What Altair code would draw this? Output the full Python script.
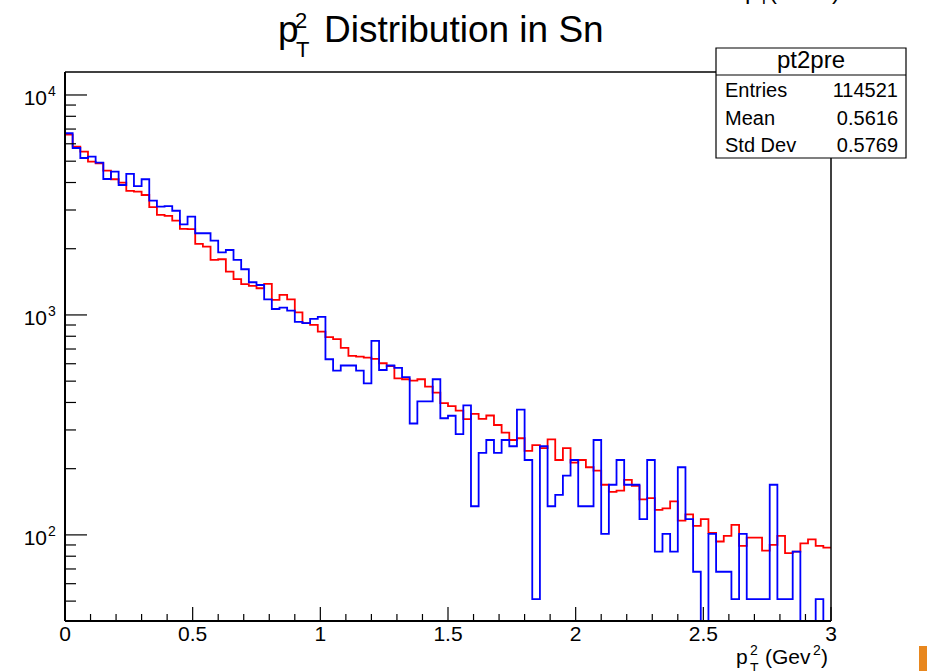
import altair as alt
import pandas as pd

# ---------------- data ----------------
n_bins = 100
x_lo, x_hi = 0.0, 3.0

# red histogram (pt2pre), bin contents
red_counts = [6600, 5821, 5526, 4975, 4893, 4527, 4139, 3994, 3661, 3634,
              3510, 3089, 2849, 2818, 2683, 2460, 2455, 2102, 2043, 1778,
              1791, 1573, 1454, 1380, 1355, 1322, 1383, 1170, 1233, 1178,
              1028, 917, 901, 839, 792, 776, 708, 651, 646, 640,
              631, 603, 586, 515, 510, 503, 510, 472, 443, 397,
              385, 367, 336, 355, 337, 349, 316, 292, 270, 275,
              241, 256, 248, 272, 219, 248, 213, 219, 203, 196,
              169, 157, 159, 178, 167, 145, 147, 130, 132, 142,
              116, 124, 110, 118, 102, 93.3, 98.9, 111, 89.1, 97.2,
              97.2, 84.9, 90.1, 98.9, 82.6, 84, 91.6, 95.5, 89.1, 87.5]

# blue histogram, bin contents (0 = empty bin)
blue_counts = [6700, 5741, 5171, 5243, 4924, 4150, 4479, 3897, 4375, 3855,
               4139, 3311, 3106, 3126, 2977, 2583, 2797, 2352, 2352, 2177,
               1927, 1974, 1778, 1613, 1408, 1368, 1178, 1064, 1079, 1046,
               929, 917, 959, 979, 629, 558, 589, 589, 558, 489,
               762, 562, 589, 574, 521, 321, 405, 405, 510, 339,
               348, 287, 388, 135, 236, 270, 236, 270, 253, 371,
               219, 51, 253, 135, 152, 186, 219, 135, 135, 270,
               101, 169, 219, 169, 169, 118, 219, 84, 101, 84,
               203, 118, 68, 0, 101, 68, 68, 51, 101, 51,
               51, 51, 169, 51, 51, 84, 0, 0, 51, 0]

x_major = [0, 0.5, 1, 1.5, 2, 2.5, 3]
x_major_labels = ["0", "0.5", "1", "1.5", "2", "2.5", "3"]
x_minor = [0.1, 0.2, 0.3, 0.4, 0.6, 0.7, 0.8, 0.9, 1.1, 1.2, 1.3, 1.4,
           1.6, 1.7, 1.8, 1.9, 2.1, 2.2, 2.3, 2.4, 2.6, 2.7, 2.8, 2.9]
y_major = [100, 1000, 10000]
y_major_exp = ["2", "3", "4"]
y_minor = [50, 60, 70, 80, 90, 200, 300, 400, 500, 600, 700, 800, 900,
           2000, 3000, 4000, 5000, 6000, 7000, 8000, 9000]

stats_title = "pt2pre"
stats_names = ["Entries", "Mean", "Std Dev"]
stats_values = ["114521", "0.5616", "0.5769"]

# ---------------- layout ----------------
W, H = 766, 549
F = "Liberation Sans"
xs = alt.Scale(domain=[x_lo, x_hi], nice=False, zero=False)
ys = alt.Scale(type="log", domain=[40.6, 12720], nice=False, clamp=True)


def step_rows(counts):
    w = (x_hi - x_lo) / n_bins
    rows = []
    for i, c in enumerate(counts):
        v = max(c, 1.0)
        rows.append({"x": x_lo + i * w, "v": v, "o": 2 * i})
        rows.append({"x": x_lo + (i + 1) * w, "v": v, "o": 2 * i + 1})
    return pd.DataFrame(rows)


def hist(counts, color):
    return alt.Chart(step_rows(counts)).mark_line(
        color=color, strokeWidth=1.8, clip=True, strokeJoin="miter"
    ).encode(
        x=alt.X("x:Q", scale=xs, axis=None),
        y=alt.Y("v:Q", scale=ys, axis=None),
        order="o:Q",
    )


one = pd.DataFrame({"a": [0]})


def txt(text, x, y, size, align="left"):
    return alt.Chart(one).mark_text(
        text=text, align=align, baseline="alphabetic", fontSize=size,
        font=F, color="black"
    ).encode(x=alt.value(x), y=alt.value(y))


def rule(x, x2, y, y2, width=1.5):
    return alt.Chart(one).mark_rule(color="black", strokeWidth=width).encode(
        x=alt.value(x), x2=alt.value(x2), y=alt.value(y), y2=alt.value(y2)
    )


red = hist(red_counts, "#ff0000")
blue = hist(blue_counts, "#0000ff")

y_maj_ticks = alt.Chart(pd.DataFrame({"v": y_major})).mark_rule(
    color="black", strokeWidth=1.2).encode(
    y=alt.Y("v:Q", scale=ys, axis=None), x=alt.value(0), x2=alt.value(22))
y_min_ticks = alt.Chart(pd.DataFrame({"v": y_minor})).mark_rule(
    color="black", strokeWidth=1.2).encode(
    y=alt.Y("v:Q", scale=ys, axis=None), x=alt.value(0), x2=alt.value(11))
x_maj_ticks = alt.Chart(pd.DataFrame({"t": x_major})).mark_rule(
    color="black", strokeWidth=1.2).encode(
    x=alt.X("t:Q", scale=xs, axis=None), y=alt.value(H), y2=alt.value(H - 14))
x_min_ticks = alt.Chart(pd.DataFrame({"t": x_minor})).mark_rule(
    color="black", strokeWidth=1.2).encode(
    x=alt.X("t:Q", scale=xs, axis=None), y=alt.value(H), y2=alt.value(H - 7))

frame = [
    rule(0, 0, 0, H, 2),
    rule(0, W, H, H, 2),
    rule(0, W, 0, 0, 1.5),
    rule(W, W, 0, H, 1.5),
]

x_labels = alt.Chart(pd.DataFrame({"t": x_major, "lab": x_major_labels})).mark_text(
    align="center", baseline="alphabetic", fontSize=21, font=F, color="black"
).encode(x=alt.X("t:Q", scale=xs, axis=None), y=alt.value(H + 20), text="lab:N")

ylab_df = pd.DataFrame({"v": y_major, "base": ["10"] * len(y_major), "exp": y_major_exp})
y_labels = alt.Chart(ylab_df).mark_text(
    align="right", baseline="alphabetic", fontSize=21, font=F, color="black", dy=10.5
).encode(y=alt.Y("v:Q", scale=ys, axis=None), x=alt.value(-18), text="base:N")
y_exps = alt.Chart(ylab_df).mark_text(
    align="left", baseline="alphabetic", fontSize=14, font=F, color="black", dy=1
).encode(y=alt.Y("v:Q", scale=ys, axis=None), x=alt.value(-17), text="exp:N")

title = [
    txt("p", 213, -30, 37),
    txt("2", 230, -44, 22),
    txt("T", 231, -15, 22),
    txt("Distribution in Sn", 259, -30, 37),
]

xtitle = [
    txt("p", 671, 592, 21),
    txt("2", 685, 583, 14),
    txt("T", 685, 601, 14),
    txt("(Gev", 700, 592, 21),
    txt("2", 748, 583, 14),
    txt(")", 756, 592, 21),
]

# remnant of a neighbouring title, cut by the top edge
remnant = [
    txt("p", 680, -73, 24),
    txt("T", 694, -68, 16),
    txt("(Gev", 704, -73, 24),
    txt("2", 757, -84, 16),
    txt(")", 767, -73, 24),
]

box = alt.Chart(one).mark_rect(fill="white", stroke="black", strokeWidth=1.2).encode(
    x=alt.value(651), x2=alt.value(841), y=alt.value(-24), y2=alt.value(86))
box_sep = rule(651, 841, 3, 3, 1.2)
box_texts = [txt(stats_title, 746, -4, 24, "center")]
for i, (nm, val) in enumerate(zip(stats_names, stats_values)):
    yy = 25 + 27.5 * i
    box_texts.append(txt(nm, 660, yy, 20, "left"))
    box_texts.append(txt(val, 833, yy, 20, "right"))

orange = alt.Chart(one).mark_rect(fill="#e8871e").encode(
    x=alt.value(854), x2=alt.value(862), y=alt.value(574), y2=alt.value(599))

chart = alt.layer(
    red, blue, y_min_ticks, y_maj_ticks, x_min_ticks, x_maj_ticks,
    *frame, x_labels, y_labels, y_exps, *title, *xtitle, *remnant,
    box, box_sep, *box_texts, orange
).properties(
    width=W, height=H,
    autosize=alt.AutoSizeParams(type="none"),
    padding={"left": 65, "top": 72, "right": 96, "bottom": 50},
    background="white",
).configure_view(stroke=None)

chart.save("out.html", embed_options={"renderer": "svg", "actions": False})
